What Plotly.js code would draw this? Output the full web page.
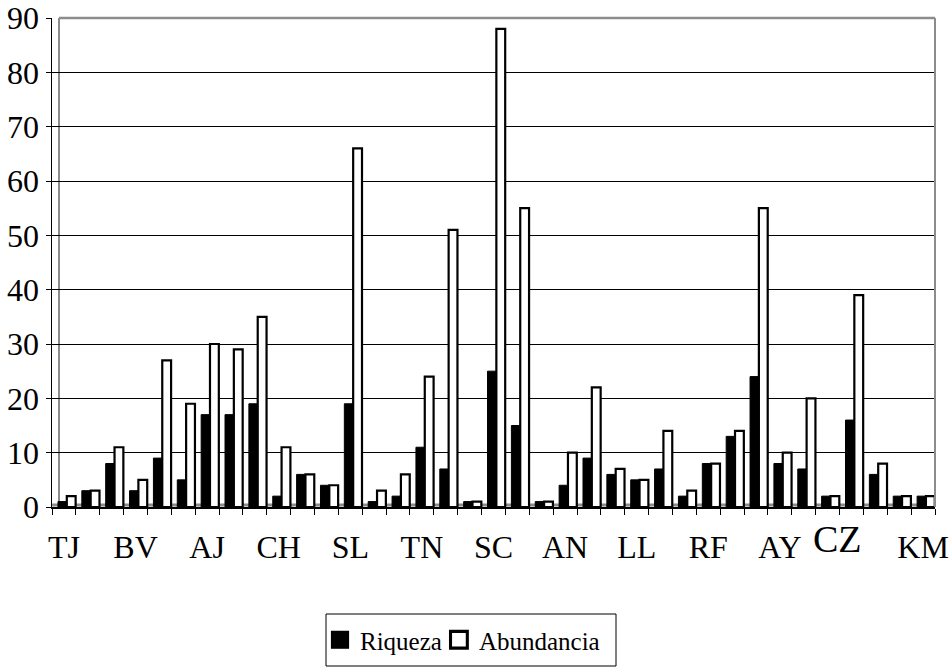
<!DOCTYPE html>
<html>
<head>
<meta charset="utf-8">
<script src="https://cdn.plot.ly/plotly-3.0.1.min.js"></script>
<style>html,body{margin:0;padding:0;background:#fff;}#chart{width:950px;height:669px;}</style>
</head>
<body>
<div id="chart"></div>
<script>
// Values (37 sites, labelled every third)
const riqueza    = [1,3,8,3,9,5,17,17,19,2,6,4,19,1,2,11,7,1,25,15,1,4,9,6,5,7,2,8,13,24,8,7,2,16,6,2,2];
const abundancia = [2,3,11,5,27,19,30,29,35,11,6,4,66,3,6,24,51,1,88,55,1,10,22,7,5,14,3,8,14,55,10,20,2,39,8,2,2];
const tickLabels = ['TJ','BV','AJ','CH','SL','TN','SC','AN','LL','RF','AY','CZ','KM'];
const yTicks     = [0,10,20,30,40,50,60,70,80,90];

const categories = riqueza.map((_, i) => i + 1);
const tickCats = tickLabels.map((_, i) => 1 + 3 * i);
const CZi = tickLabels.indexOf('CZ');
const tickText = tickLabels.map((t, i) => i === CZi ? '' : t);

const serif = 'Liberation Serif';

const traces = [
  {type:'bar', name:'Riqueza', x:categories, y:riqueza,
   offset:-0.25, width:0.36,
   marker:{color:'#000000', line:{color:'#000000', width:1}}},
  {type:'bar', name:'Abundancia', x:categories, y:abundancia,
   offset:0.12, width:0.37,
   marker:{color:'#ffffff', line:{color:'#000000', width:2.2}}}
];

// plot area pixel geometry
const L = 52, R = 935, T = 18, B = 507;
const px2x = p => (p - L) / (R - L);
const px2y = p => (B - p) / (B - T);

const layout = {
  width:950, height:669,
  margin:{l:L, r:950-R, t:T, b:669-B, pad:0, autoexpand:false},
  paper_bgcolor:'#ffffff', plot_bgcolor:'#ffffff',
  showlegend:true,
  barmode:'group',
  font:{family:serif, color:'#000000'},
  xaxis:{
    range:[0.5, categories.length + 0.5],
    tickmode:'array', tickvals:tickCats, ticktext:tickText,
    ticks:'', ticklen:0,
    showgrid:false, zeroline:false,
    showline:true, linecolor:'#000000', linewidth:1.5,
    tickfont:{family:serif, size:32, color:'#000000'},
    ticklabelstandoff:11,
    minor:{tickmode:'linear', tick0:0.5, dtick:1, ticks:'outside', ticklen:6, tickwidth:1, tickcolor:'#000000', showgrid:false},
    fixedrange:true
  },
  yaxis:{
    range:[0, 90], tickmode:'array', tickvals:yTicks,
    ticks:'outside', ticklen:5, tickwidth:1, tickcolor:'#000000',
    showgrid:true, gridcolor:'#000000', gridwidth:1,
    zeroline:false,
    showline:true, linecolor:'#000000', linewidth:1.5,
    tickfont:{family:serif, size:32, color:'#000000'},
    fixedrange:true
  },
  legend:{
    orientation:'h', xref:'paper', yref:'paper',
    x:px2x(320), y:px2y(617), xanchor:'left', yanchor:'top',
    bgcolor:'rgba(0,0,0,0)', borderwidth:0,
    font:{family:serif, size:25, color:'#000000'},
    itemwidth:30,
    traceorder:'normal'
  },
  shapes:[
    // back wall outline (gray)
    {type:'line', xref:'paper', yref:'paper', x0:px2x(59), x1:px2x(59), y0:0, y1:1, line:{color:'#8c8c8c', width:2}, layer:'below'},
    {type:'line', xref:'paper', yref:'paper', x0:px2x(59), x1:1, y0:1, y1:1, line:{color:'#8c8c8c', width:2.5}, layer:'above'},
    {type:'line', xref:'paper', yref:'paper', x0:1, x1:1, y0:0, y1:1, line:{color:'#8c8c8c', width:2}, layer:'above'},
    // floor band
    {type:'line', xref:'paper', yref:'paper', x0:0, x1:1, y0:px2y(505), y1:px2y(505), line:{color:'#8c8c8c', width:3}, layer:'below'},
    // legend frame
    {type:'rect', xref:'paper', yref:'paper', x0:px2x(326), x1:px2x(616), y0:px2y(614), y1:px2y(666), line:{color:'#000000', width:1}, fillcolor:'rgba(0,0,0,0)'}
  ],
  annotations:[
    {text:tickLabels[CZi], x:tickCats[CZi] - 0.6, xref:'x', y:px2y(516), yref:'paper',
     xanchor:'center', yanchor:'top', showarrow:false,
     font:{family:serif, size:38, color:'#000000'}}
  ]
};

Plotly.newPlot('chart', traces, layout, {displayModeBar:false, staticPlot:true}).then(() => {
  // enlarge legend swatches like the reference
  document.querySelectorAll('#chart .legend .legendpoints path').forEach(p => {
    const t = p.getAttribute('transform') || '';
    p.setAttribute('transform', t + ' scale(1.4)');
  });
  // pull second legend entry a little closer
  const items = document.querySelectorAll('#chart .legend .traces');
  if (items.length > 1) {
    const it = items[1];
    const t = it.getAttribute('transform') || '';
    const m = t.match(/translate\(\s*([-\d.]+)[ ,]+([-\d.]+)\s*\)/);
    if (m) it.setAttribute('transform', 'translate(' + (parseFloat(m[1]) - 8) + ',' + m[2] + ')');
  }
});
</script>
</body>
</html>
